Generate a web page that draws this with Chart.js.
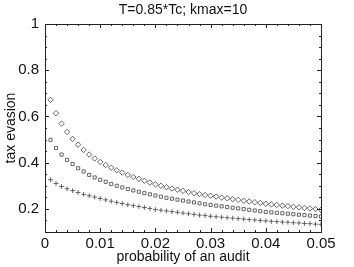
<!DOCTYPE html>
<html>
<head>
<meta charset="utf-8">
<script src="https://cdn.jsdelivr.net/npm/chart.js@4"></script>
<style>
  html, body { margin: 0; padding: 0; background: #fff; }
  #wrap { width: 354px; height: 267px; }
</style>
</head>
<body>
<div id="wrap"><canvas id="evasionChart" width="354" height="267"></canvas></div>
<script>
// probability of an audit, 0.001 .. 0.050
const auditProb = [
  0.001, 0.002, 0.003, 0.004, 0.005, 0.006, 0.007, 0.008, 0.009, 0.010,
  0.011, 0.012, 0.013, 0.014, 0.015, 0.016, 0.017, 0.018, 0.019, 0.020,
  0.021, 0.022, 0.023, 0.024, 0.025, 0.026, 0.027, 0.028, 0.029, 0.030,
  0.031, 0.032, 0.033, 0.034, 0.035, 0.036, 0.037, 0.038, 0.039, 0.040,
  0.041, 0.042, 0.043, 0.044, 0.045, 0.046, 0.047, 0.048, 0.049, 0.050
];

// upper series (diamonds)
const evasionDiamond = [
  0.672, 0.614, 0.569, 0.533, 0.503, 0.478, 0.455, 0.435, 0.418, 0.403,
  0.390, 0.378, 0.367, 0.357, 0.347, 0.338, 0.330, 0.322, 0.314, 0.306,
  0.300, 0.294, 0.288, 0.283, 0.278, 0.273, 0.268, 0.264, 0.260, 0.257,
  0.253, 0.249, 0.246, 0.242, 0.239, 0.235, 0.232, 0.229, 0.226, 0.222,
  0.219, 0.217, 0.214, 0.212, 0.209, 0.207, 0.204, 0.202, 0.199, 0.196
];

// middle series (squares)
const evasionSquare = [
  0.499, 0.463, 0.435, 0.412, 0.394, 0.376, 0.362, 0.347, 0.336, 0.326,
  0.317, 0.308, 0.300, 0.293, 0.286, 0.280, 0.274, 0.268, 0.263, 0.258,
  0.253, 0.248, 0.244, 0.240, 0.236, 0.232, 0.228, 0.224, 0.220, 0.217,
  0.214, 0.211, 0.208, 0.205, 0.202, 0.199, 0.196, 0.193, 0.190, 0.187,
  0.185, 0.183, 0.181, 0.179, 0.177, 0.175, 0.173, 0.171, 0.169, 0.167
];

// lower series (crosses)
const evasionPlus = [
  0.326, 0.310, 0.297, 0.287, 0.279, 0.271, 0.263, 0.257, 0.251, 0.245,
  0.239, 0.233, 0.228, 0.223, 0.218, 0.214, 0.210, 0.206, 0.202, 0.197,
  0.194, 0.191, 0.188, 0.185, 0.182, 0.179, 0.176, 0.173, 0.171, 0.168,
  0.166, 0.164, 0.162, 0.160, 0.158, 0.156, 0.154, 0.152, 0.150, 0.148,
  0.146, 0.145, 0.143, 0.142, 0.140, 0.139, 0.137, 0.136, 0.134, 0.133
];

const xTicks = [0, 0.01, 0.02, 0.03, 0.04, 0.05];
const yTicks = [0.2, 0.4, 0.6, 0.8, 1];
const chartTitle = "T=0.85*Tc; kmax=10";

const FONT = "'Liberation Sans', Arial, Helvetica, sans-serif";
const INK = "#111";

function toPoints(ys) {
  return auditProb.map((x, i) => ({ x: x, y: ys[i] }));
}

// box, inward major/minor ticks on all four sides, and the title
const frameTicks = {
  id: "frameTicks",
  afterDraw(chart) {
    const { ctx, chartArea: a, scales } = chart;
    const xs = scales.x, ys = scales.y;
    ctx.save();
    ctx.strokeStyle = "#222";
    ctx.lineWidth = 1;
    ctx.strokeRect(Math.round(a.left) + 0.5, Math.round(a.top) + 0.5,
      Math.round(a.right - a.left), Math.round(a.bottom - a.top));

    ctx.beginPath();
    // x ticks: major every 0.01, minor every 0.002
    for (let k = 0; k <= 25; k++) {
      const v = k * 0.002;
      const px = Math.round(xs.getPixelForValue(v)) + 0.5;
      const len = k % 5 === 0 ? 4 : 2;
      ctx.moveTo(px, a.bottom); ctx.lineTo(px, a.bottom - len);
      ctx.moveTo(px, a.top); ctx.lineTo(px, a.top + len);
    }
    // y ticks: major every 0.2, minor every 0.05
    for (let k = 2; k <= 20; k++) {
      const v = k * 0.05;
      const py = Math.round(ys.getPixelForValue(v)) + 0.5;
      const len = k % 4 === 0 ? 4 : 2;
      ctx.moveTo(a.left, py); ctx.lineTo(a.left + len, py);
      ctx.moveTo(a.right, py); ctx.lineTo(a.right - len, py);
    }
    ctx.stroke();

    ctx.fillStyle = INK;
    ctx.font = "14px " + FONT;
    ctx.textAlign = "center";
    ctx.textBaseline = "middle";
    ctx.fillText(chartTitle, (a.left + a.right) / 2, 10);
    ctx.restore();
  }
};

const markerColor = "#555";

new Chart(document.getElementById("evasionChart"), {
  type: "scatter",
  data: {
    datasets: [
      {
        label: "diamond",
        data: toPoints(evasionDiamond),
        pointStyle: "rectRot",
        pointRadius: 2.7,
        borderColor: markerColor,
        backgroundColor: "rgba(0,0,0,0)",
        borderWidth: 0.9,
      },
      {
        label: "square",
        data: toPoints(evasionSquare),
        pointStyle: "rect",
        pointRadius: 2.2,
        borderColor: markerColor,
        backgroundColor: "rgba(0,0,0,0)",
        borderWidth: 0.9,
      },
      {
        label: "plus",
        data: toPoints(evasionPlus),
        pointStyle: "cross",
        pointRadius: 2.4,
        borderColor: markerColor,
        backgroundColor: "rgba(0,0,0,0)",
        borderWidth: 0.9,
      },
    ],
  },
  options: {
    responsive: false,
    animation: false,
    layout: { padding: { top: 24, right: 33, left: 0, bottom: 0 } },
    plugins: {
      legend: { display: false },
      tooltip: { enabled: false },
      title: { display: false },
    },
    scales: {
      x: {
        type: "linear",
        min: 0,
        max: 0.05,
        afterBuildTicks: (scale) => { scale.ticks = xTicks.map((v) => ({ value: v })); },
        afterFit: (scale) => { scale.height = 35; },
        grid: { display: false, drawTicks: false },
        border: { display: false },
        ticks: {
          padding: 3,
          color: INK,
          font: { family: FONT, size: 15 },
          maxRotation: 0,
          callback: (v) => (v === 0 ? "0" : v.toFixed(2)),
        },
        title: {
          display: true,
          text: "probability of an audit",
          color: INK,
          font: { family: FONT, size: 14 },
          padding: { top: 0, bottom: 1 },
        },
      },
      y: {
        type: "linear",
        min: 0.1,
        max: 1,
        afterBuildTicks: (scale) => { scale.ticks = yTicks.map((v) => ({ value: v })); },
        afterFit: (scale) => { scale.width = 45; },
        grid: { display: false, drawTicks: false },
        border: { display: false },
        ticks: {
          padding: 6,
          color: INK,
          font: { family: FONT, size: 15 },
          callback: (v) => (v === 1 ? "1" : v.toFixed(1)),
        },
        title: {
          display: true,
          text: "tax evasion",
          color: INK,
          font: { family: FONT, size: 14 },
          padding: { top: 3, bottom: 0 },
        },
      },
    },
  },
  plugins: [frameTicks],
});
</script>
</body>
</html>
